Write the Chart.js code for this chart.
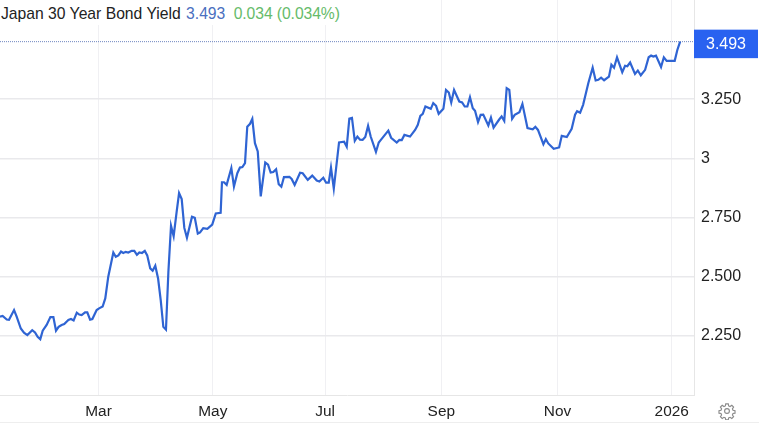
<!DOCTYPE html>
<html>
<head>
<meta charset="utf-8">
<title>Japan 30 Year Bond Yield</title>
<script src="https://cdn.jsdelivr.net/npm/chart.js@4"></script>
<style>
  body { margin: 0; background: #fff; font-family: "Liberation Sans", sans-serif; }
  #wrap { position: relative; width: 759px; height: 424px; overflow: hidden; }
  #wrap::after { content: ""; position: absolute; left: 0; right: 0; top: 422px; height: 1px; background: #eeeeee; }
  #title { position: absolute; left: 1px; top: 0; height: 25px; line-height: 27px; padding-right: 6px; background: #fff; font-size: 15.7px; color: #222; white-space: nowrap; }
  #title .last { color: #4a6fc0; margin-left: 1px; }
  #title .change { color: #66bb6a; margin-left: 4px; letter-spacing: -0.08px; }
  #gear { position: absolute; left: 718px; top: 402px; }
</style>
</head>
<body>
<div id="wrap">
  <canvas id="chart" width="759" height="424"></canvas>
  <div id="title">Japan 30 Year Bond Yield <span class="last">3.493</span> <span class="change">0.034 (0.034%)</span></div>
  <svg id="gear" width="18" height="18" viewBox="0 0 24 24" fill="none" stroke="#8a8a8a" stroke-width="1.5">
    <circle cx="12" cy="12" r="3.2"/>
    <path d="M10.3 2.5h3.4l.5 2.7 1.9.8 2.3-1.6 2.4 2.4-1.6 2.3.8 1.9 2.7.5v3.4l-2.7.5-.8 1.9 1.6 2.3-2.4 2.4-2.3-1.6-1.9.8-.5 2.7h-3.4l-.5-2.7-1.9-.8-2.3 1.6-2.4-2.4 1.6-2.3-.8-1.9-2.7-.5v-3.4l2.7-.5.8-1.9-1.6-2.3 2.4-2.4 2.3 1.6 1.9-.8z"/>
  </svg>
</div>
<script>
// day of the year counted from 1 Jan 2025
const days = [
  6.4, 7.8, 10.0, 11.2, 13.9, 15.3, 17.5, 19.2, 21.0, 23.6, 25.1, 26.5, 27.9, 29.2, 31.3, 33.3, 34.9, 36.3, 37.7, 39.3,
  40.7, 42.9, 44.3, 45.7, 47.4, 48.7, 50.0, 51.8, 53.0, 54.5, 55.7, 58.0, 59.3, 61.2, 62.6, 64.2, 66.9, 68.2, 69.6, 71.0,
  72.2, 73.5, 74.9, 76.7, 78.1, 79.5, 80.8, 82.2, 83.7, 85.0, 86.6, 87.9, 89.3, 90.8, 92.2, 93.6, 95.0, 96.3, 97.7, 99.1,
  100.7, 102.0, 103.4, 104.8, 106.2, 108.9, 110.4, 112.0, 113.2, 114.9, 117.1, 119.7, 121.6, 124.2, 124.9, 126.0, 127.4, 129.9, 131.3, 133.1,
  134.5, 135.8, 137.2, 138.4, 139.9, 141.1, 142.5, 144.0, 145.6, 148.0, 149.5, 150.9, 152.3, 153.8, 155.2, 156.6, 158.0, 160.9, 162.1, 163.7,
  166.6, 168.0, 170.7, 173.1, 175.5, 176.9, 179.0, 180.5, 181.9, 183.1, 184.6, 187.4, 190.1, 191.5, 192.9, 194.3, 195.8, 197.2, 198.6, 200.0,
  201.4, 202.9, 204.3, 207.1, 208.6, 209.3, 213.7, 215.2, 218.2, 219.6, 220.9, 222.3, 225.3, 228.0, 229.4, 230.8, 232.1, 233.5, 236.4, 237.7,
  239.2, 240.6, 243.1, 244.5, 246.0, 247.3, 248.8, 251.6, 253.1, 254.5, 255.9, 257.3, 258.8, 260.0, 261.6, 263.0, 264.4, 267.1, 268.5, 269.9,
  272.8, 274.2, 275.6, 276.9, 278.3, 279.8, 281.2, 283.7, 285.3, 288.0, 290.8, 292.2, 293.6, 296.5, 297.8, 299.1, 302.0, 304.9, 306.3, 309.0,
  311.6, 313.4, 314.5, 316.1, 317.7, 320.5, 322.8, 324.4, 325.8, 327.3, 328.9, 331.5, 332.8, 334.2, 335.8, 338.6, 340.1, 341.3, 342.8, 345.4,
  346.9, 348.5, 350.8, 352.7, 354.0, 355.2, 356.6, 359.3, 360.8, 362.3, 366.6, 368.0, 369.5
];
const yields = [
  2.331, 2.334, 2.319, 2.318, 2.359, 2.331, 2.281, 2.263, 2.253, 2.274, 2.264, 2.246, 2.236, 2.272, 2.296, 2.329, 2.329, 2.272, 2.288, 2.296,
  2.300, 2.317, 2.321, 2.315, 2.348, 2.340, 2.338, 2.349, 2.349, 2.318, 2.321, 2.359, 2.366, 2.374, 2.408, 2.500, 2.602, 2.584, 2.590, 2.606,
  2.600, 2.605, 2.602, 2.609, 2.609, 2.592, 2.602, 2.600, 2.609, 2.590, 2.535, 2.525, 2.546, 2.492, 2.401, 2.288, 2.276, 2.521, 2.715, 2.671,
  2.774, 2.853, 2.828, 2.706, 2.664, 2.753, 2.749, 2.682, 2.687, 2.705, 2.702, 2.720, 2.767, 2.770, 2.899, 2.899, 2.888, 2.959, 2.881, 2.937,
  2.961, 2.963, 2.980, 3.134, 3.146, 3.167, 3.064, 3.029, 2.839, 2.982, 2.973, 2.940, 2.942, 2.954, 2.891, 2.880, 2.921, 2.922, 2.913, 2.888,
  2.939, 2.937, 2.909, 2.927, 2.906, 2.902, 2.918, 2.897, 2.897, 2.961, 2.872, 3.067, 3.070, 3.049, 3.168, 3.171, 3.074, 3.092, 3.079, 3.078,
  3.090, 3.137, 3.092, 3.027, 3.067, 3.074, 3.117, 3.087, 3.067, 3.078, 3.077, 3.099, 3.092, 3.120, 3.141, 3.179, 3.188, 3.219, 3.209, 3.233,
  3.222, 3.188, 3.209, 3.289, 3.278, 3.236, 3.289, 3.240, 3.236, 3.219, 3.219, 3.258, 3.212, 3.201, 3.153, 3.184, 3.185, 3.139, 3.172, 3.130,
  3.163, 3.177, 3.158, 3.296, 3.289, 3.167, 3.184, 3.195, 3.230, 3.128, 3.123, 3.133, 3.120, 3.060, 3.081, 3.063, 3.040, 3.046, 3.095, 3.090,
  3.125, 3.184, 3.199, 3.193, 3.226, 3.318, 3.383, 3.329, 3.332, 3.341, 3.330, 3.345, 3.396, 3.383, 3.427, 3.364, 3.391, 3.389, 3.405, 3.357,
  3.371, 3.351, 3.374, 3.427, 3.434, 3.430, 3.434, 3.386, 3.427, 3.412, 3.412, 3.458, 3.493
];

const tickDays = [59, 120, 180, 242, 304, 365];
const tickMonths = ["Mar", "May", "Jul", "Sep", "Nov", "2026"];
const yTicks = [2.25, 2.5, 2.75, 3, 3.25];
const yTickLabels = ["2.250", "2.500", "2.750", "3", "3.250"];
const lastValue = 3.493;

const xMin = 6.4, xMax = 376.9;
const yMin = 2.0, yMax = 3.669;
const fontFamily = '"Liberation Sans", sans-serif';

// blue box with the last price on the right axis
const lastPriceBox = {
  id: "lastPriceBox",
  afterDraw(chart) {
    const { ctx, chartArea, scales } = chart;
    const y = scales.y.getPixelForValue(lastValue);
    ctx.save();
    ctx.fillStyle = "#2962f0";
    ctx.fillRect(chartArea.right, y - 12, chart.width - chartArea.right - 1, 28.5);
    ctx.fillStyle = "#fff";
    ctx.font = "16px " + fontFamily;
    ctx.textAlign = "center";
    ctx.textBaseline = "middle";
    ctx.fillText(lastValue.toFixed(3), 726, y + 3);
    ctx.restore();
  }
};

new Chart(document.getElementById("chart"), {
  type: "line",
  data: {
    datasets: [
      {
        data: days.map((d, i) => ({ x: d, y: yields[i] })),
        borderColor: "#2f64d3",
        borderWidth: 2.2,
        pointRadius: 0,
        tension: 0,
        order: 1
      },
      {
        data: [{ x: xMin, y: lastValue }, { x: xMax, y: lastValue }],
        borderColor: "#6f86c0",
        borderWidth: 1,
        borderDash: [1, 1],
        pointRadius: 0,
        order: 2
      }
    ]
  },
  options: {
    responsive: false,
    animation: false,
    layout: { padding: 0 },
    plugins: { legend: { display: false }, tooltip: { enabled: false } },
    scales: {
      x: {
        type: "linear",
        min: xMin,
        max: xMax,
        afterBuildTicks: (scale) => { scale.ticks = tickDays.map((v) => ({ value: v })); },
        afterFit: (scale) => {
          scale.height = 29;
          scale.paddingLeft = 0;
          scale.paddingRight = 0;
        },
        grid: { color: "#f0f0f3", lineWidth: 1, drawTicks: false },
        border: { color: "#e6e6e6", width: 1 },
        ticks: {
          color: "#222",
          padding: 8,
          maxRotation: 0,
          autoSkip: false,
          font: { family: fontFamily, size: 15.4 },
          callback: (v) => tickMonths[tickDays.indexOf(v)]
        }
      },
      y: {
        position: "right",
        min: yMin,
        max: yMax,
        afterBuildTicks: (scale) => { scale.ticks = yTicks.map((v) => ({ value: v })); },
        afterFit: (scale) => {
          scale.width = 65;
          scale.paddingTop = 0;
          scale.paddingBottom = 0;
        },
        grid: { color: "#e9e9ec", lineWidth: 1.5, drawTicks: false },
        border: { color: "#e6e6e6", width: 1 },
        ticks: {
          color: "#222",
          padding: 7,
          crossAlign: "near",
          font: { family: fontFamily, size: 16 },
          callback: (v) => yTickLabels[yTicks.indexOf(v)]
        }
      }
    }
  },
  plugins: [lastPriceBox]
});
</script>
</body>
</html>
